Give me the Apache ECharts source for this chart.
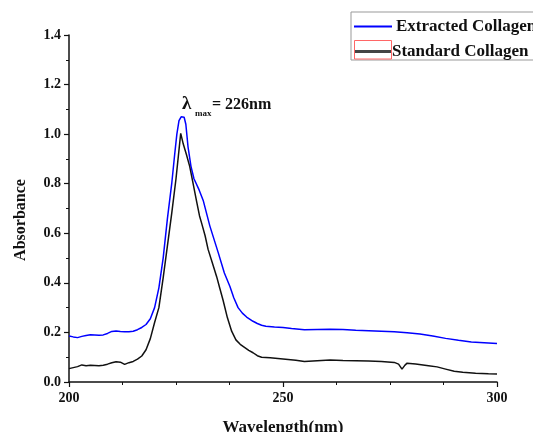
<!DOCTYPE html>
<html>
<head>
<meta charset="utf-8">
<script src="https://cdn.jsdelivr.net/npm/echarts@6/dist/echarts.min.js"></script>
<style>html,body{margin:0;padding:0;background:#fff}#c{width:533px;height:432px}</style>
</head>
<body>
<div id="c"></div>
<script>
// Extracted Collagen (blue)
const extractedWavelength = [200,201,202,203,204,205,206,207,208,209,210,211,212,213,214,215,216,217,218,219,220,221,222,223,224,224.7,225.2,225.7,226.2,226.9,227.3,227.8,228.5,229.2,230.4,231.4,232.9,234.9,236.3,237.6,238.5,239.5,240.5,241.5,243,244,245,246,248,250,252,255,258,261,264,267,270,273,276,279,282,285,288,291,294,297,300];
const extractedAbsorbance = [0.186,0.182,0.179,0.184,0.188,0.191,0.190,0.189,0.190,0.196,0.204,0.206,0.204,0.203,0.203,0.205,0.211,0.220,0.232,0.255,0.300,0.380,0.500,0.660,0.800,0.920,1.000,1.055,1.070,1.068,1.040,0.950,0.870,0.820,0.775,0.730,0.630,0.520,0.440,0.385,0.340,0.300,0.278,0.262,0.245,0.236,0.229,0.225,0.222,0.220,0.216,0.211,0.212,0.213,0.212,0.209,0.207,0.205,0.203,0.199,0.194,0.186,0.176,0.168,0.161,0.158,0.155];
// Standard Collagen (black)
const standardWavelength = [200,201,202,203,204,205,206,207,208,209,210,211,212,213,214,215,216,217,218,219,220,221,222,223,224,225,225.6,226.1,226.7,227.4,228.2,229,229.8,230.5,231,231.8,232.5,233.5,234.5,235.2,236,237,238,239,240,241,242,243,244,245,247,250,253,255,258,261,264,267,270,273,276,277,277.8,278.5,279,281,284,286,288,290,292,295,298,300];
const standardAbsorbance = [0.054,0.058,0.062,0.069,0.066,0.068,0.067,0.066,0.068,0.072,0.078,0.082,0.080,0.071,0.078,0.083,0.092,0.105,0.130,0.175,0.240,0.300,0.420,0.550,0.680,0.820,0.920,1.003,0.960,0.920,0.870,0.800,0.730,0.670,0.640,0.590,0.535,0.480,0.425,0.380,0.330,0.260,0.205,0.170,0.152,0.140,0.128,0.118,0.106,0.100,0.098,0.093,0.088,0.083,0.086,0.089,0.087,0.086,0.085,0.083,0.079,0.072,0.052,0.068,0.076,0.073,0.066,0.061,0.052,0.043,0.039,0.035,0.033,0.032];
const seriesNames = ['Extracted Collagen','Standard Collagen'];
const xLabel = 'Wavelength(nm)';
const yLabel = 'Absorbance';
const peakNote = ['λ','max','= 226nm'];

const zip = (xs, ys) => xs.map((x, i) => [x, ys[i]]);
const font = 'Liberation Serif';
const chart = echarts.init(document.getElementById('c'));
chart.setOption({
  animation: false,
  backgroundColor: '#fff',
  grid: {left: 69, right: 36, top: 35, bottom: 50, containLabel: false, outerBoundsMode: 'none'},
  legend: {
    orient: 'vertical', left: 351, top: 12,
    itemWidth: 38, itemHeight: 14, itemGap: 8,
    padding: [6, 40, 0, 3],
    borderColor: '#999', borderWidth: 1,
    textStyle: {fontFamily: font, fontWeight: 'bold', fontSize: 17, color: '#111', padding: [0,0,0,-1]},
    data: [
      {name: seriesNames[0], icon: 'path://M0,0H38V2H0Z', itemStyle: {color: '#0000ff'}},
      {name: seriesNames[1], icon: 'path://M0,0H38V3H0Z', itemStyle: {color: '#444'},
       textStyle: {fontFamily: font, fontWeight: 'bold', fontSize: 17, color: '#111', padding: [0,0,0,-5]}}
    ]
  },
  xAxis: {
    type: 'value', min: 200, max: 300, interval: 50,
    name: xLabel, nameLocation: 'middle', nameGap: 37,
    nameTextStyle: {fontFamily: font, fontWeight: 'bold', fontSize: 17, color: '#111'},
    axisLine: {show: true, onZero: false, lineStyle: {color: '#111', width: 1.5}},
    axisTick: {show: true, length: 5, lineStyle: {color: '#111', width: 1.2}},
    minorTick: {show: true, splitNumber: 4, length: 3, lineStyle: {color: '#111', width: 1}},
    axisLabel: {fontFamily: font, fontWeight: 'bold', fontSize: 14, color: '#111', margin: 9},
    splitLine: {show: false}
  },
  yAxis: {
    type: 'value', min: 0, max: 1.4, interval: 0.2,
    name: yLabel, nameLocation: 'middle', nameGap: 40,
    nameTextStyle: {fontFamily: font, fontWeight: 'bold', fontSize: 16, color: '#111', padding: [0, 23, 0, 0]},
    axisLine: {show: true, onZero: false, lineStyle: {color: '#111', width: 1.5}},
    axisTick: {show: true, length: 5, lineStyle: {color: '#111', width: 1.2}},
    minorTick: {show: true, splitNumber: 2, length: 3, lineStyle: {color: '#111', width: 1}},
    axisLabel: {fontFamily: font, fontWeight: 'bold', fontSize: 14, color: '#111', margin: 8,
      formatter: v => v.toFixed(1)},
    splitLine: {show: false}
  },
  series: [
    {name: seriesNames[0], type: 'line', showSymbol: false, symbol: 'none',
     lineStyle: {color: '#0000ff', width: 1.5}, itemStyle: {color: '#0000ff'},
     data: zip(extractedWavelength, extractedAbsorbance), z: 2},
    {name: seriesNames[1], type: 'line', showSymbol: false, symbol: 'none',
     lineStyle: {color: '#111', width: 1.5}, itemStyle: {color: '#444'},
     data: zip(standardWavelength, standardAbsorbance), z: 3}
  ],
  graphic: [
    {type: 'rect', shape: {x: 354.5, y: 40.5, width: 37, height: 18.5},
     style: {fill: 'none', stroke: '#ff6666', lineWidth: 1}, z: 100},
    {type: 'text', left: 182, top: 95, style: {text: peakNote[0], font: 'bold 19px "Liberation Serif"', fill: '#111'}},
    {type: 'text', left: 195, top: 109, style: {text: peakNote[1], font: 'bold 9px "Liberation Serif"', fill: '#111'}},
    {type: 'text', left: 212, top: 97, style: {text: peakNote[2], font: 'bold 16px "Liberation Serif"', fill: '#111'}}
  ]
});
</script>
</body>
</html>
